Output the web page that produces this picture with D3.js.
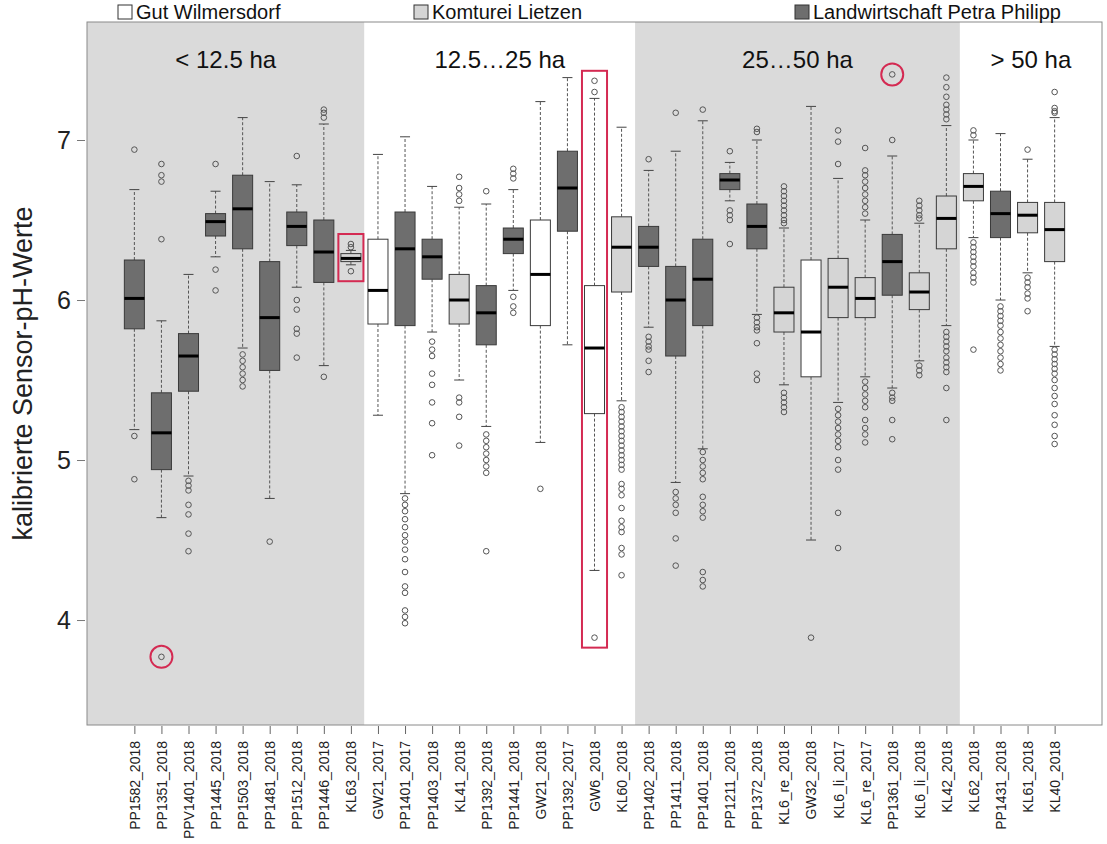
<!DOCTYPE html>
<html>
<head>
<meta charset="utf-8">
<script src="https://cdn.jsdelivr.net/npm/d3@7"></script>
<style>
  body { margin: 0; background: #fff; }
  text { font-family: "Liberation Sans", Arial, sans-serif; }
</style>
</head>
<body>
<svg id="chart" width="1107" height="844"></svg>
<script>
// Fields (site + year) in the order they are plotted
const categories = [
  "PP1582_2018", "PP1351_2018", "PPV1401_2018", "PP1445_2018", "PP1503_2018",
  "PP1481_2018", "PP1512_2018", "PP1446_2018", "KL63_2018", "GW21_2017",
  "PP1401_2017", "PP1403_2018", "KL41_2018", "PP1392_2018", "PP1441_2018",
  "GW21_2018", "PP1392_2017", "GW6_2018", "KL60_2018", "PP1402_2018",
  "PP1411_2018", "PP1401_2018", "PP1211_2018", "PP1372_2018", "KL6_re_2018",
  "GW32_2018", "KL6_li_2017", "KL6_re_2017", "PP1361_2018", "KL6_li_2018",
  "KL42_2018", "KL62_2018", "PP1431_2018", "KL61_2018", "KL40_2018"
];

// Box statistics per field (pH)
const whiskerLow = [5.19, 4.64, 4.90, 6.27, 5.70, 4.76, 6.08, 5.59, 6.22, 5.28,
                    4.79, 5.80, 5.50, 5.21, 6.06, 5.11, 5.72, 4.31, 5.37, 5.83,
                    4.86, 5.07, 6.62, 5.91, 5.47, 4.50, 5.36, 5.52, 5.45, 5.62,
                    5.84, 6.39, 6.00, 6.17, 5.71];
const q1         = [5.82, 4.94, 5.43, 6.40, 6.32, 5.56, 6.34, 6.11, 6.24, 5.85,
                    5.84, 6.13, 5.85, 5.72, 6.29, 5.84, 6.43, 5.29, 6.05, 6.21,
                    5.65, 5.84, 6.69, 6.32, 5.80, 5.52, 5.89, 5.89, 6.03, 5.94,
                    6.32, 6.62, 6.39, 6.42, 6.24];
const median     = [6.01, 5.17, 5.65, 6.49, 6.57, 5.89, 6.46, 6.30, 6.26, 6.06,
                    6.32, 6.27, 6.00, 5.92, 6.38, 6.16, 6.70, 5.70, 6.33, 6.33,
                    6.00, 6.13, 6.75, 6.46, 5.92, 5.80, 6.08, 6.01, 6.24, 6.05,
                    6.51, 6.71, 6.54, 6.53, 6.44];
const q3         = [6.25, 5.42, 5.79, 6.54, 6.78, 6.24, 6.55, 6.50, 6.29, 6.38,
                    6.55, 6.38, 6.16, 6.09, 6.45, 6.50, 6.93, 6.09, 6.52, 6.46,
                    6.21, 6.38, 6.79, 6.60, 6.08, 6.25, 6.26, 6.14, 6.41, 6.17,
                    6.65, 6.79, 6.68, 6.61, 6.61];
const whiskerHigh = [6.69, 5.87, 6.16, 6.68, 7.14, 6.74, 6.72, 7.10, 6.31, 6.91,
                     7.02, 6.71, 6.58, 6.60, 6.69, 7.24, 7.39, 7.26, 7.08, 6.81,
                     6.93, 7.12, 6.86, 7.00, 6.45, 7.21, 6.76, 6.50, 6.90, 6.48,
                     7.09, 7.00, 7.04, 6.88, 7.14];

// Single readings beyond the whiskers
const outliers = [
  [6.94, 5.15, 4.88],
  [6.85, 6.78, 6.74, 6.38, 3.77],
  [4.87, 4.84, 4.81, 4.72, 4.66, 4.54, 4.43],
  [6.85, 6.19, 6.06],
  [5.66, 5.62, 5.58, 5.54, 5.50, 5.46],
  [4.49],
  [6.90, 6.00, 5.94, 5.82, 5.79, 5.64],
  [7.19, 7.17, 7.14, 5.52],
  [6.35, 6.33, 6.18],
  [],
  [4.76, 4.72, 4.68, 4.63, 4.58, 4.53, 4.49, 4.44, 4.38, 4.30, 4.21, 4.17, 4.06, 4.02, 3.98],
  [5.74, 5.69, 5.65, 5.54, 5.47, 5.36, 5.23, 5.03],
  [6.77, 6.70, 6.66, 6.62, 5.39, 5.36, 5.27, 5.09],
  [6.68, 5.16, 5.12, 5.08, 5.04, 5.00, 4.96, 4.92, 4.43],
  [6.82, 6.79, 6.76, 6.02, 5.96, 5.92],
  [4.82],
  [],
  [7.37, 7.30, 3.89],
  [5.33, 5.30, 5.27, 5.24, 5.21, 5.18, 5.15, 5.12, 5.09, 5.06, 5.03, 5.00, 4.97,
   4.94, 4.85, 4.82, 4.78, 4.70, 4.62, 4.58, 4.55, 4.45, 4.41, 4.28],
  [6.88, 5.77, 5.74, 5.71, 5.69, 5.62, 5.55],
  [7.17, 4.80, 4.76, 4.72, 4.67, 4.51, 4.34],
  [7.19, 5.05, 5.00, 4.96, 4.92, 4.88, 4.77, 4.72, 4.68, 4.64, 4.30, 4.25, 4.21],
  [6.93, 6.56, 6.53, 6.50, 6.35],
  [7.07, 7.05, 5.89, 5.86, 5.83, 5.81, 5.73, 5.54, 5.50],
  [6.71, 6.68, 6.65, 6.62, 6.59, 6.56, 6.53, 6.50, 6.48, 5.42, 5.39, 5.36, 5.33, 5.30],
  [3.89],
  [7.06, 6.99, 6.85, 5.32, 5.28, 5.24, 5.20, 5.16, 5.12, 5.08, 5.00, 4.94, 4.67, 4.45],
  [6.95, 6.81, 6.78, 6.74, 6.70, 6.66, 6.62, 6.58, 6.54, 5.49, 5.45, 5.41, 5.37, 5.33, 5.25, 5.20, 5.16, 5.11],
  [7.41, 7.00, 5.42, 5.39, 5.37, 5.25, 5.13],
  [6.62, 6.59, 6.56, 6.53, 6.51, 5.59, 5.56, 5.53],
  [7.39, 7.33, 7.27, 7.22, 7.19, 7.16, 7.13, 5.80, 5.77, 5.74, 5.71, 5.68, 5.64, 5.61, 5.58, 5.55, 5.45, 5.25],
  [7.06, 7.03, 6.36, 6.33, 6.30, 6.27, 6.24, 6.21, 6.17, 6.14, 6.11, 5.69],
  [5.96, 5.93, 5.90, 5.87, 5.84, 5.80, 5.76, 5.72, 5.68, 5.64, 5.60, 5.56],
  [6.94, 6.14, 6.11, 6.08, 6.04, 6.01, 5.93],
  [7.30, 7.20, 7.18, 7.17, 5.69, 5.66, 5.63, 5.60, 5.57, 5.54, 5.50, 5.45, 5.40, 5.35, 5.28, 5.22, 5.15, 5.10]
];

// Farms (field-name prefix) and legend text
const farmPrefixes = ["GW", "KL", "PP"];
const farmNames = ["Gut Wilmersdorf", "Komturei Lietzen", "Landwirtschaft Petra Philipp"];

// Field size classes, given by first and last field of each class
const sizeClasses = ["< 12.5 ha", "12.5\u202625 ha", "25\u202650 ha", "> 50 ha"];
const classFirst = ["PP1582_2018", "GW21_2017", "PP1402_2018", "KL62_2018"];
const classLast  = ["KL63_2018", "KL60_2018", "KL42_2018", "KL40_2018"];

const yTicks = [4, 5, 6, 7];
const yTitle = "kalibrierte Sensor-pH-Werte";

// Marked fields and single readings
const markedFields = ["KL63_2018", "GW6_2018"];
const markedReadings = [["PP1351_2018", 3.77], ["PP1361_2018", 7.41]];

// ---------------------------------------------------------------
const farmFill = { GW: "#ffffff", KL: "#d5d5d5", PP: "#6e6e6e" };
const classFill = ["#dadada", "#ffffff", "#dadada", "#ffffff"];
const markColor = "#d42a52";

const plot = { left: 87, right: 1102, top: 22, bottom: 725 };

const svg = d3.select("#chart");

const x = d3.scalePoint()
  .domain(categories)
  .range([plot.left, plot.right])
  .padding(1.75);
const step = x.step();
const boxW = step * 0.74;

const y = d3.scaleLinear()
  .domain([3.344, 7.7375])
  .range([plot.bottom, plot.top]);

const farmOf = name => farmPrefixes.find(p => name.startsWith(p));

// Size-class background bands
const bandEdge = (name, side) => {
  const i = categories.indexOf(name);
  if (side < 0) return i === 0 ? plot.left : x(name) - step / 2;
  return i === categories.length - 1 ? plot.right : x(name) + step / 2;
};
const bands = sizeClasses.map((label, i) => ({
  label,
  x0: bandEdge(classFirst[i], -1),
  x1: bandEdge(classLast[i], 1),
  fill: classFill[i]
}));

svg.append("g").selectAll("rect").data(bands).join("rect")
  .attr("x", d => d.x0).attr("y", plot.top)
  .attr("width", d => d.x1 - d.x0).attr("height", plot.bottom - plot.top)
  .attr("fill", d => d.fill);

svg.append("g").selectAll("text").data(bands).join("text")
  .attr("x", d => (d.x0 + d.x1) / 2)
  .attr("y", 68)
  .attr("text-anchor", "middle")
  .attr("font-size", 24)
  .attr("fill", "#111")
  .text(d => d.label);

// Boxplots
const stats = categories.map((c, i) => ({
  name: c, farm: farmOf(c),
  lo: whiskerLow[i], q1: q1[i], med: median[i], q3: q3[i], hi: whiskerHigh[i],
  out: outliers[i]
}));

const g = svg.append("g").selectAll("g").data(stats).join("g")
  .attr("transform", d => `translate(${x(d.name)},0)`);

// whiskers (dashed)
g.append("line")
  .attr("y1", d => y(d.q3)).attr("y2", d => y(d.hi))
  .attr("stroke", "#555").attr("stroke-width", 1).attr("stroke-dasharray", "3,2");
g.append("line")
  .attr("y1", d => y(d.q1)).attr("y2", d => y(d.lo))
  .attr("stroke", "#555").attr("stroke-width", 1).attr("stroke-dasharray", "3,2");
// whisker caps
g.selectAll("line.cap").data(d => [d.lo, d.hi]).join("line")
  .attr("class", "cap")
  .attr("x1", -boxW / 4).attr("x2", boxW / 4)
  .attr("y1", v => y(v)).attr("y2", v => y(v))
  .attr("stroke", "#444").attr("stroke-width", 1);
// box
g.append("rect")
  .attr("x", -boxW / 2).attr("width", boxW)
  .attr("y", d => y(d.q3)).attr("height", d => y(d.q1) - y(d.q3))
  .attr("fill", d => farmFill[d.farm])
  .attr("stroke", "#3a3a3a").attr("stroke-width", 1);
// median
g.append("line")
  .attr("x1", -boxW / 2).attr("x2", boxW / 2)
  .attr("y1", d => y(d.med)).attr("y2", d => y(d.med))
  .attr("stroke", "#000").attr("stroke-width", 3);
// outliers
g.selectAll("circle").data(d => d.out).join("circle")
  .attr("cy", v => y(v)).attr("r", 2.8)
  .attr("fill", "none").attr("stroke", "#555").attr("stroke-width", 1);

// Plot frame
svg.append("rect")
  .attr("x", plot.left).attr("y", plot.top)
  .attr("width", plot.right - plot.left).attr("height", plot.bottom - plot.top)
  .attr("fill", "none").attr("stroke", "#8a8a8a").attr("stroke-width", 1);

// Axes
const yAxis = svg.append("g")
  .attr("transform", `translate(${plot.left - 2},0)`)
  .call(d3.axisLeft(y).tickValues(yTicks).tickFormat(d3.format("d")).tickSize(8).tickPadding(6));
yAxis.select(".domain").remove();
yAxis.selectAll("line").attr("stroke", "#777");
yAxis.selectAll("text").attr("font-size", 25).attr("fill", "#222")
  .attr("font-family", "Liberation Sans, Arial, sans-serif");

const xAxis = svg.append("g")
  .attr("transform", `translate(0,${plot.bottom + 1})`)
  .call(d3.axisBottom(x).tickSize(8).tickPadding(6));
xAxis.select(".domain").remove();
xAxis.selectAll("line").attr("stroke", "#666");
xAxis.selectAll("text")
  .attr("transform", "rotate(-90)")
  .attr("x", -15).attr("y", 0).attr("dy", "0.35em")
  .attr("text-anchor", "end")
  .attr("font-size", 14).attr("fill", "#222")
  .attr("font-family", "Liberation Sans, Arial, sans-serif");

svg.append("text")
  .attr("transform", `translate(32,${(plot.top + plot.bottom) / 2}) rotate(-90)`)
  .attr("text-anchor", "middle")
  .attr("font-size", 27).attr("fill", "#222")
  .text(yTitle);

// Legend
const legendX = [118, 414, 795];
const leg = svg.append("g").selectAll("g").data(farmNames).join("g")
  .attr("transform", (d, i) => `translate(${legendX[i]},4)`);
leg.append("rect")
  .attr("width", 14).attr("height", 14).attr("y", 1)
  .attr("fill", (d, i) => farmFill[farmPrefixes[i]])
  .attr("stroke", "#333").attr("stroke-width", 1);
leg.append("text")
  .attr("x", 18).attr("y", 15)
  .attr("font-size", 20).attr("fill", "#111")
  .text(d => d);

// Marked fields and readings
const marks = svg.append("g");
markedFields.forEach(name => {
  const s = stats.find(d => d.name === name);
  const top = d3.max([s.hi, ...s.out]);
  const bottom = d3.min([s.lo, ...s.out]);
  marks.append("rect")
    .attr("x", x(name) - step / 2 + 1).attr("width", step - 2)
    .attr("y", y(top) - 10).attr("height", y(bottom) - y(top) + 20)
    .attr("fill", "none").attr("stroke", markColor).attr("stroke-width", 2);
});
markedReadings.forEach(([name, v]) => {
  marks.append("circle")
    .attr("cx", x(name)).attr("cy", y(v)).attr("r", 11)
    .attr("fill", "none").attr("stroke", markColor).attr("stroke-width", 2);
});
</script>
</body>
</html>
